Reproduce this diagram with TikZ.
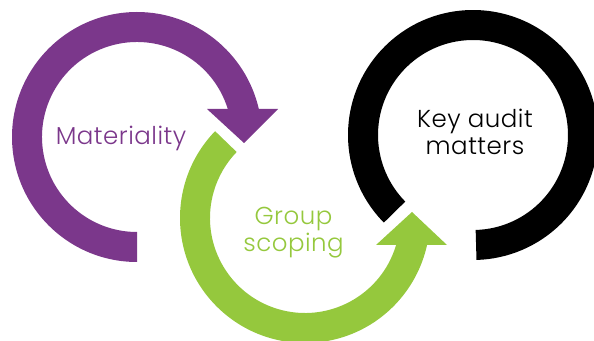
\documentclass[tikz,border=0pt]{standalone}
\usepackage{fontspec}
\setmainfont{Poppins}[UprightFont=* Light,LetterSpace=2]
\usetikzlibrary{calc}
\definecolor{cyclepurple}{RGB}{123,55,139}
\definecolor{cyclegreen}{RGB}{149,200,61}
\begin{document}
\begin{tikzpicture}[x=1pt,y=1pt,
  label/.style={font=\fontsize{24.5}{27}\selectfont,align=center,inner sep=0pt,anchor=base}]
\useasboundingbox (0,0) rectangle (594,340);
\begin{scope}
\clip (0,0) rectangle (594,340);
% Materiality: open ring ending in a downward arrowhead
\fill[cyclepurple] (137,203) ++(270:125) arc[start angle=270,end angle=12.9,radius=125]
  -- ($(137,203)+(17.1:95)$) arc[start angle=17.1,end angle=270,radius=95] -- cycle;
\fill[cyclepurple] (207,231) -- (278,231) -- (244,197) -- cycle;
% Group scoping: lower ring ending in an upward arrowhead
\fill[cyclegreen] (305,122) ++(136:125) arc[start angle=136,end angle=347.5,radius=125]
  -- ($(305,122)+(343.5:95)$) arc[start angle=343.5,end angle=136,radius=95] -- cycle;
\fill[cyclegreen] (376,95) -- (447,95) -- (412,128) -- cycle;
% Key audit matters: plain open ring
\fill[black] (473,205) ++(224.5:125) arc[start angle=224.5,end angle=-88.4,radius=125]
  -- ($(473,205)+(-88.4:95)$) arc[start angle=-88.4,end angle=224.5,radius=95] -- cycle;
\end{scope}
% Labels; a two-line node sits on the baseline of its last line
\node[label,text=cyclepurple] (mat) at (121,195) {Materiality};
\node[label,text=cyclegreen] (grp) at (293.5,88) {Group\\scoping};
\node[label,text=black] (kam) at (475,185) {Key audit\\matters};
\end{tikzpicture}
\end{document}
